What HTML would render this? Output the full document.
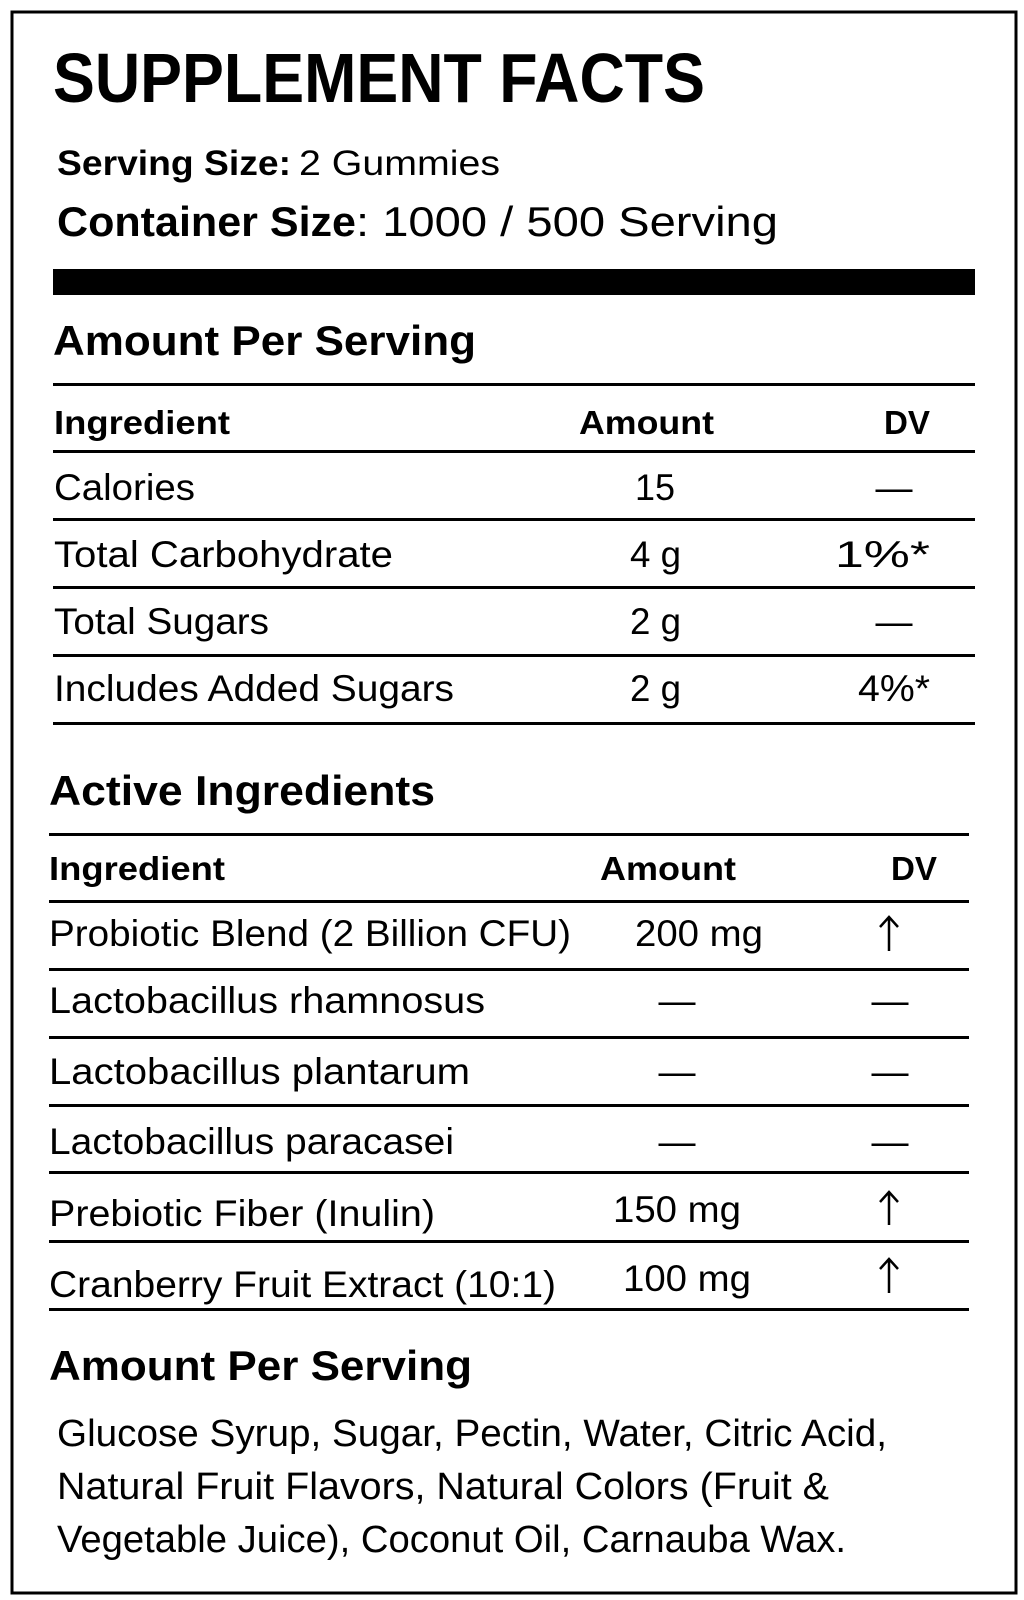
<!DOCTYPE html>
<html><head><meta charset="utf-8"><style>
html,body{margin:0;padding:0;background:#fff;}
svg{display:block;}
text{font-family:"Liberation Sans",sans-serif;fill:#000;}
.b{font-weight:bold;}
</style></head><body>
<svg width="1024" height="1600" viewBox="0 0 1024 1600" xmlns="http://www.w3.org/2000/svg">
<rect x="12" y="12" width="1004" height="1581" fill="none" stroke="#000" stroke-width="3"/>
<text class="b" x="53" y="102" font-size="70" textLength="652" lengthAdjust="spacingAndGlyphs">SUPPLEMENT FACTS</text>
<text class="b" x="57" y="175" font-size="35" textLength="234" lengthAdjust="spacingAndGlyphs">Serving Size:</text>
<text x="299" y="175" font-size="35" textLength="201" lengthAdjust="spacingAndGlyphs">2 Gummies</text>
<text class="b" x="57" y="236" font-size="42" textLength="299" lengthAdjust="spacingAndGlyphs">Container Size</text>
<text x="356" y="236" font-size="42" textLength="422" lengthAdjust="spacingAndGlyphs">: 1000 / 500 Serving</text>
<rect x="53" y="269" width="922" height="26" fill="#000"/>
<text class="b" x="53" y="355" font-size="42" textLength="423" lengthAdjust="spacingAndGlyphs">Amount Per Serving</text>
<g fill="#000">
<rect x="53" y="383" width="922" height="3"/>
<rect x="53" y="450" width="922" height="3"/>
<rect x="53" y="518" width="922" height="3"/>
<rect x="53" y="586" width="922" height="3"/>
<rect x="53" y="654" width="922" height="3"/>
<rect x="53" y="722" width="922" height="3"/>
<rect x="49" y="833" width="920" height="3"/>
<rect x="49" y="900" width="920" height="3"/>
<rect x="49" y="968" width="920" height="3"/>
<rect x="49" y="1036" width="920" height="3"/>
<rect x="49" y="1104" width="920" height="3"/>
<rect x="49" y="1171" width="920" height="3"/>
<rect x="49" y="1240" width="920" height="3"/>
<rect x="49" y="1308" width="920" height="3"/>
</g>
<text class="b" x="54" y="434" font-size="33" textLength="176" lengthAdjust="spacingAndGlyphs">Ingredient</text>
<text class="b" x="579" y="434" font-size="33" textLength="135" lengthAdjust="spacingAndGlyphs">Amount</text>
<text class="b" x="884" y="434" font-size="33" textLength="46" lengthAdjust="spacingAndGlyphs">DV</text>
<g font-size="37">
<text x="54" y="500" textLength="141" lengthAdjust="spacingAndGlyphs">Calories</text>
<text x="635" y="500" textLength="40" lengthAdjust="spacingAndGlyphs">15</text>
<text x="894" y="500" text-anchor="middle">—</text>
<text x="54" y="567" textLength="339" lengthAdjust="spacingAndGlyphs">Total Carbohydrate</text>
<text x="630" y="567" textLength="51" lengthAdjust="spacingAndGlyphs">4 g</text>
<text x="835" y="567" textLength="95" lengthAdjust="spacingAndGlyphs">1%*</text>
<text x="54" y="634" textLength="215" lengthAdjust="spacingAndGlyphs">Total Sugars</text>
<text x="630" y="634" textLength="51" lengthAdjust="spacingAndGlyphs">2 g</text>
<text x="894" y="634" text-anchor="middle">—</text>
<text x="54" y="701" textLength="400" lengthAdjust="spacingAndGlyphs">Includes Added Sugars</text>
<text x="630" y="701" textLength="51" lengthAdjust="spacingAndGlyphs">2 g</text>
<text x="858" y="701" textLength="72" lengthAdjust="spacingAndGlyphs">4%*</text>
</g>
<text class="b" x="49" y="805" font-size="42" textLength="386" lengthAdjust="spacingAndGlyphs">Active Ingredients</text>
<text class="b" x="49" y="880" font-size="33" textLength="176" lengthAdjust="spacingAndGlyphs">Ingredient</text>
<text class="b" x="600" y="880" font-size="33" textLength="136" lengthAdjust="spacingAndGlyphs">Amount</text>
<text class="b" x="891" y="880" font-size="33" textLength="46" lengthAdjust="spacingAndGlyphs">DV</text>
<g font-size="37">
<text x="49" y="946" textLength="522" lengthAdjust="spacingAndGlyphs">Probiotic Blend (2 Billion CFU)</text>
<text x="635" y="946" textLength="128" lengthAdjust="spacingAndGlyphs">200 mg</text>
<text x="49" y="1013" textLength="436" lengthAdjust="spacingAndGlyphs">Lactobacillus rhamnosus</text>
<text x="677" y="1013" text-anchor="middle">—</text>
<text x="890" y="1013" text-anchor="middle">—</text>
<text x="49" y="1084" textLength="421" lengthAdjust="spacingAndGlyphs">Lactobacillus plantarum</text>
<text x="677" y="1084" text-anchor="middle">—</text>
<text x="890" y="1084" text-anchor="middle">—</text>
<text x="49" y="1154" textLength="405" lengthAdjust="spacingAndGlyphs">Lactobacillus paracasei</text>
<text x="677" y="1154" text-anchor="middle">—</text>
<text x="890" y="1154" text-anchor="middle">—</text>
<text x="49" y="1226" textLength="386" lengthAdjust="spacingAndGlyphs">Prebiotic Fiber (Inulin)</text>
<text x="613" y="1222" textLength="128" lengthAdjust="spacingAndGlyphs">150 mg</text>
<text x="49" y="1297" textLength="507" lengthAdjust="spacingAndGlyphs">Cranberry Fruit Extract (10:1)</text>
<text x="623" y="1291" textLength="128" lengthAdjust="spacingAndGlyphs">100 mg</text>
</g>
<g stroke="#000" stroke-width="2.5" fill="none">
<path d="M889 918 V951 M880 927 L889 917 L898 927"/>
<path d="M889 1193 V1225 M880 1202 L889 1192 L898 1202"/>
<path d="M889 1260 V1293 M880 1269 L889 1259 L898 1269"/>
</g>
<text class="b" x="49" y="1380" font-size="42" textLength="423" lengthAdjust="spacingAndGlyphs">Amount Per Serving</text>
<g font-size="38">
<text x="57" y="1446" textLength="830" lengthAdjust="spacingAndGlyphs">Glucose Syrup, Sugar, Pectin, Water, Citric Acid,</text>
<text x="57" y="1499" textLength="772" lengthAdjust="spacingAndGlyphs">Natural Fruit Flavors, Natural Colors (Fruit &amp;</text>
<text x="57" y="1552" textLength="789" lengthAdjust="spacingAndGlyphs">Vegetable Juice), Coconut Oil, Carnauba Wax.</text>
</g>
</svg>
</body></html>
